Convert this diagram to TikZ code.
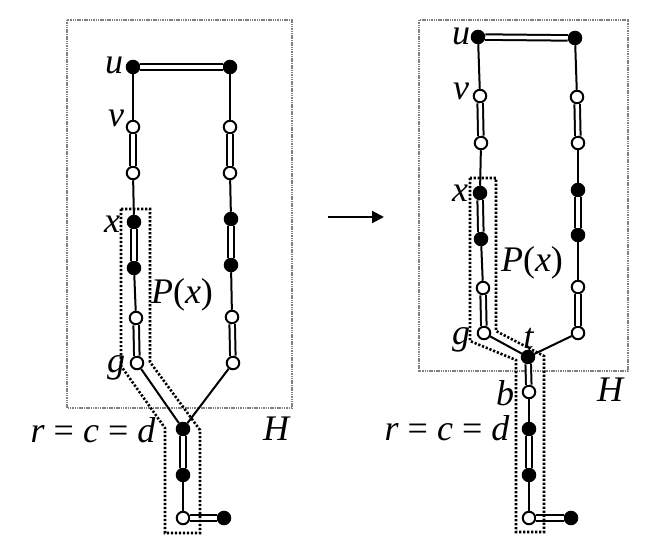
\documentclass[tikz,border=0pt]{standalone}
\usepackage{fontspec}
\setmainfont{Liberation Serif}
\usetikzlibrary{arrows.meta}

\tikzset{
    bv/.style={circle, draw, fill=black, line width=2pt, inner sep=0pt, minimum size=12.5pt},
    wv/.style={circle, draw, fill=white, line width=2pt, inner sep=0pt, minimum size=12.5pt},
    sgl/.style={line width=2pt},
    dbl/.style={line width=2pt, double, double distance=3.5pt},
    pth/.style={line width=2.6pt, dash pattern=on 2.2pt off 1.8pt},
    hbox/.style={gray, line width=1.2pt, dash pattern=on 1.5pt off 0.8pt},
    lbl/.style={font=\fontsize{36}{43}\selectfont, inner sep=0pt, anchor=base}
}

\begin{document}
\begin{tikzpicture}[x=1pt, y=-1pt]
        \useasboundingbox (0,0) rectangle (656,540);

        % Graph H (before)
        \draw[hbox] (67,20) rectangle (292,408);

        \node[bv] (Lu) at (133,67) {};
        \node[bv] (Lur) at (230,67) {};
        \node[wv] (La) at (133,127) {};
        \node[wv] (Lb) at (133,173) {};
        \node[bv] (Lc) at (134,222) {};
        \node[bv] (Ld) at (134,268) {};
        \node[wv] (Le) at (136,318) {};
        \node[wv] (Lf) at (137,363) {};
        \node[wv] (Ra) at (230,127) {};
        \node[wv] (Rb) at (230,173) {};
        \node[bv] (Rc) at (231,219) {};
        \node[bv] (Rd) at (231,265) {};
        \node[wv] (Re) at (232,317) {};
        \node[wv] (Rf) at (233,363) {};
        \node[bv] (Lr) at (183,429) {};
        \node[bv] (Ls) at (183,475) {};
        \node[wv] (Lw) at (183,518) {};
        \node[bv] (Lz) at (224,518) {};

        \draw[dbl] (Lu) -- (Lur);
        \draw[sgl] (Lu) -- (La);
        \draw[dbl] (La) -- (Lb);
        \draw[sgl] (Lb) -- (Lc);
        \draw[dbl] (Lc) -- (Ld);
        \draw[sgl] (Ld) -- (Le);
        \draw[dbl] (Le) -- (Lf);
        \draw[sgl] (Lf) -- (Lr);
        \draw[sgl] (Lur) -- (Ra);
        \draw[dbl] (Ra) -- (Rb);
        \draw[sgl] (Rb) -- (Rc);
        \draw[dbl] (Rc) -- (Rd);
        \draw[sgl] (Rd) -- (Re);
        \draw[dbl] (Re) -- (Rf);
        \draw[sgl] (Rf) -- (Lr);
        \draw[dbl] (Lr) -- (Ls);
        \draw[sgl] (Ls) -- (Lw);
        \draw[dbl] (Lw) -- (Lz);

        % P(x)
        \draw[pth] (121,209) -- (121,366) -- (165,428) -- (165,533)
            -- (200,533) -- (200,430) -- (150,362) -- (150,209) -- cycle;

        \node[lbl] (lu) at (114,74) {\textit{u}};
        \node[lbl] (lv) at (116,127) {\textit{v}};
        \node[lbl] (lx) at (112,233) {\textit{x}};
        \node[lbl] (lP) at (182,303) {\textit{P}(\textit{x})};
        \node[lbl] (lg) at (116,372) {\textit{g}};
        \node[lbl] (lrcd) at (93,442) {\textit{r} = \textit{c} = \textit{d}};
        \node[lbl] (lH) at (277,440) {\textit{H}};

        % arrow
        \coordinate (arrS) at (328,217);
        \coordinate (arrE) at (384,217);
        \draw[sgl, -{Triangle[length=12pt, width=12pt]}] (arrS) -- (arrE);

        % Graph H (after)
        \draw[hbox] (419,20) rectangle (628,371);

        \node[bv] (Mu) at (478,37) {};
        \node[bv] (Mur) at (575,38) {};
        \node[wv] (Ma) at (480,96) {};
        \node[wv] (Mb) at (481,143) {};
        \node[bv] (Mc) at (480,193) {};
        \node[bv] (Md) at (481,239) {};
        \node[wv] (Me) at (483,288) {};
        \node[wv] (Mf) at (484,333) {};
        \node[wv] (Na) at (577,97) {};
        \node[wv] (Nb) at (578,143) {};
        \node[bv] (Nc) at (578,190) {};
        \node[bv] (Nd) at (578,235) {};
        \node[wv] (Ne) at (578,287) {};
        \node[wv] (Nf) at (578,333) {};
        \node[bv] (Mt) at (528,357) {};
        \node[wv] (Mb2) at (529,392) {};
        \node[bv] (Mr) at (529,429) {};
        \node[bv] (Ms) at (529,475) {};
        \node[wv] (Mw) at (529,518) {};
        \node[bv] (Mz) at (571,518) {};

        \draw[dbl] (Mu) -- (Mur);
        \draw[sgl] (Mu) -- (Ma);
        \draw[dbl] (Ma) -- (Mb);
        \draw[sgl] (Mb) -- (Mc);
        \draw[dbl] (Mc) -- (Md);
        \draw[sgl] (Md) -- (Me);
        \draw[dbl] (Me) -- (Mf);
        \draw[sgl] (Mf) -- (Mt);
        \draw[sgl] (Mur) -- (Na);
        \draw[dbl] (Na) -- (Nb);
        \draw[sgl] (Nb) -- (Nc);
        \draw[dbl] (Nc) -- (Nd);
        \draw[sgl] (Nd) -- (Ne);
        \draw[dbl] (Ne) -- (Nf);
        \draw[sgl] (Nf) -- (Mt);
        \draw[dbl] (Mt) -- (Mb2);
        \draw[sgl] (Mb2) -- (Mr);
        \draw[dbl] (Mr) -- (Ms);
        \draw[sgl] (Ms) -- (Mw);
        \draw[dbl] (Mw) -- (Mz);

        % P(x)
        \draw[pth] (470,178) -- (470,341) -- (516,360) -- (516,532)
            -- (544,532) -- (544,356) -- (496,331) -- (496,178) -- cycle;

        \node[lbl] (mu) at (461,45) {\textit{u}};
        \node[lbl] (mv) at (461,100) {\textit{v}};
        \node[lbl] (mx) at (460,202) {\textit{x}};
        \node[lbl] (mP) at (532,272) {\textit{P}(\textit{x})};
        \node[lbl] (mg) at (461,344) {\textit{g}};
        \node[lbl] (mt) at (529,348) {\textit{t}};
        \node[lbl] (mb) at (505,405) {\textit{b}};
        \node[lbl] (mrcd) at (447,440) {\textit{r} = \textit{c} = \textit{d}};
        \node[lbl] (mH) at (611,401) {\textit{H}};
\end{tikzpicture}
\end{document}
